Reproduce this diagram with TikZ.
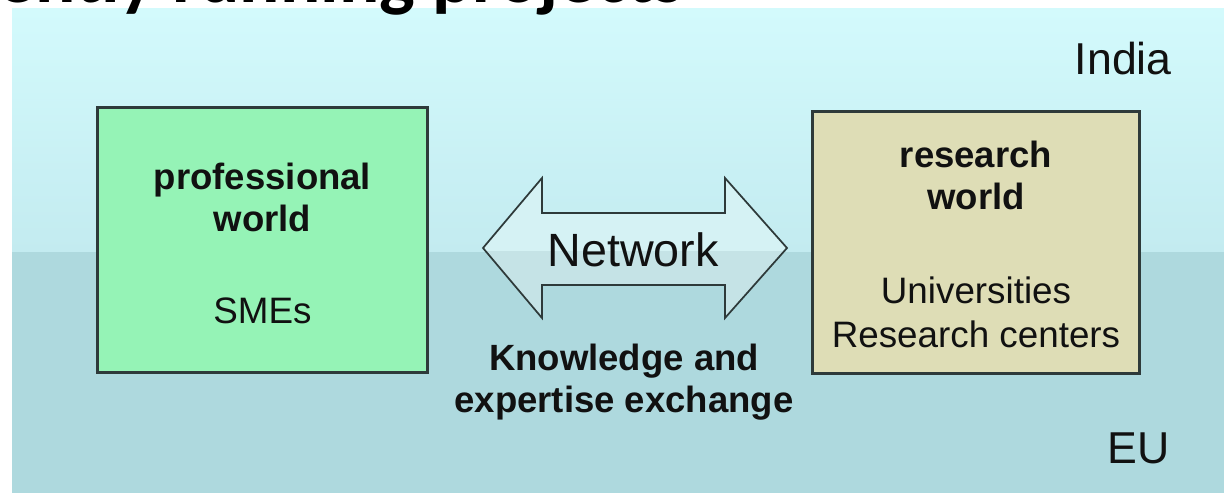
\documentclass[tikz,border=0pt]{standalone}
\usepackage{fontspec}
\setmainfont{Liberation Sans}
\newfontfamily\titlefont{Carlito}
\definecolor{paneltop}{HTML}{D3FAFC}
\definecolor{panelmid}{HTML}{C3EBF0}
\definecolor{panellow}{HTML}{AED9DE}
\definecolor{greenup}{HTML}{95F3B6}
\definecolor{greenlow}{HTML}{80E3A6}
\definecolor{khakiup}{HTML}{DEDDB6}
\definecolor{khakilow}{HTML}{CDCCA7}
\definecolor{arrowup}{HTML}{D5F2F4}
\definecolor{arrowlow}{HTML}{C5E3E6}
\definecolor{edge}{HTML}{2E3A3A}
\definecolor{ink}{HTML}{111111}
\tikzset{
  worldbox/.style={draw=edge, line width=1.6pt, inner sep=0pt},
  boldtxt/.style={inner sep=0pt, anchor=base, text=ink, font=\fontsize{27.4pt}{32pt}\selectfont\bfseries},
  plaintxt/.style={inner sep=0pt, anchor=base, text=ink, font=\fontsize{27.6pt}{32pt}\selectfont},
  regiontxt/.style={inner sep=0pt, anchor=base east, text=ink, font=\fontsize{33.5pt}{38pt}\selectfont},
}
\def\arrowpoly{(483,248) -- (542,178) -- (542,213) -- (725,213) -- (725,178) -- (787,248) -- (725,318) -- (725,285) -- (542,285) -- (542,318) -- cycle}
\begin{document}
\begin{tikzpicture}[x=0.75pt,y=-0.75pt]
\useasboundingbox (0,0) rectangle (1224,495);
\clip (0,0) rectangle (1224,495);
\fill[white] (0,0) rectangle (1224,495);
% panel
\shade[top color=paneltop, bottom color=panelmid] (12,9) rectangle (1224,252);
\fill[panellow] (12,252) rectangle (1224,493);
% title (cut off at the top edge, as in the reference)
\node[inner sep=0pt, anchor=base east, text=black, font=\titlefont\fontsize{56.5pt}{62pt}\selectfont\bfseries] (title) at (684,3) {ently running projects};
% left box
\node[worldbox, minimum width=329*0.75pt, minimum height=264*0.75pt,
  path picture={\fill[greenup] (path picture bounding box.north west) rectangle (path picture bounding box.south east);
                \fill[greenlow] (0,252) rectangle (path picture bounding box.south east);}] (prof) at (262.5,240) {};
\draw[edge, line width=1.6pt] (prof.north west) rectangle (prof.south east);
\node[boldtxt] (proft1) at (262.5,190) {professional};
\node[boldtxt] (proft2) at (262.5,232) {world};
\node[plaintxt] (smes) at (262.5,323) {SMEs};
% right box
\node[worldbox, minimum width=326*0.75pt, minimum height=261*0.75pt,
  path picture={\fill[khakiup] (path picture bounding box.north west) rectangle (path picture bounding box.south east);
                \fill[khakilow] (0,252) rectangle (path picture bounding box.south east);}] (res) at (976,242.5) {};
\draw[edge, line width=1.6pt] (res.north west) rectangle (res.south east);
\node[boldtxt] (rest1) at (976,168) {research};
\node[boldtxt] (rest2) at (976,210) {world};
\node[plaintxt] (univ) at (976,303) {Universities};
\node[plaintxt] (rcent) at (976,347) {Research centers};
% double arrow
\fill[arrowup] \arrowpoly;
\begin{scope}
  \clip (0,252) rectangle (1224,495);
  \fill[arrowlow] \arrowpoly;
\end{scope}
\draw[edge, line width=1.3pt, line join=miter] \arrowpoly;
\node[inner sep=0pt, anchor=base, text=ink, font=\fontsize{35pt}{40pt}\selectfont] (net) at (633,267) {Network};
% caption
\node[boldtxt] (know1) at (624,370) {Knowledge and};
\node[boldtxt] (know2) at (624,412) {expertise exchange};
% regions
\node[regiontxt] (india) at (1172,75) {India};
\node[regiontxt] (eu) at (1170,463) {EU};
\end{tikzpicture}
\end{document}
